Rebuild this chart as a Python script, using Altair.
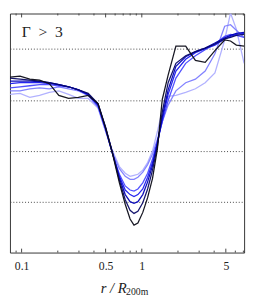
import altair as alt
import pandas as pd

r = [0.08, 0.097, 0.117, 0.141, 0.17, 0.204, 0.246, 0.297, 0.358, 0.432, 0.501, 0.571,
     0.651, 0.728, 0.799, 0.861, 0.928, 1.019, 1.118, 1.228, 1.348, 1.48, 1.656, 1.922,
     2.317, 2.793, 3.367, 4.058, 4.891, 5.471, 6.118, 7.1]

c1 = [-1.55,-1.53,-1.59,-1.61,-1.68,-1.91,-1.97,-1.95,-1.91,-2.07,-2.56,-3.06,-3.63,-4.05,-4.34,-4.46,-4.42,-4.21,-3.92,-3.54,-2.96,-1.99,-1.51,-0.94,-0.94,-1.22,-1.26,-1.03,-0.82,-0.84,-0.92,-0.94]
c2 = [-1.57,-1.59,-1.61,-1.63,-1.66,-1.70,-1.74,-1.80,-1.87,-2.07,-2.54,-3.04,-3.58,-3.96,-4.17,-4.23,-4.19,-4.02,-3.75,-3.38,-2.91,-2.24,-1.66,-1.28,-1.13,-1.05,-0.98,-0.90,-0.80,-0.77,-0.73,-0.71]
c3 = [-1.63,-1.63,-1.63,-1.64,-1.66,-1.70,-1.74,-1.80,-1.89,-2.08,-2.56,-3.04,-3.54,-3.86,-4.00,-4.03,-4.00,-3.86,-3.61,-3.29,-2.85,-2.33,-1.80,-1.34,-1.15,-1.05,-0.98,-0.88,-0.78,-0.73,-0.69,-0.67]
c4 = [-1.68,-1.66,-1.66,-1.66,-1.68,-1.70,-1.74,-1.80,-1.89,-2.10,-2.58,-3.06,-3.50,-3.77,-3.86,-3.90,-3.86,-3.75,-3.52,-3.23,-2.85,-2.39,-1.89,-1.43,-1.20,-1.07,-0.99,-0.92,-0.80,-0.75,-0.71,-0.69]
c5 = [-1.76,-1.74,-1.72,-1.70,-1.70,-1.72,-1.74,-1.80,-1.91,-2.12,-2.58,-3.06,-3.46,-3.69,-3.77,-3.79,-3.75,-3.63,-3.44,-3.16,-2.81,-2.43,-2.01,-1.57,-1.28,-1.13,-1.01,-0.90,-0.75,-0.71,-0.73,-0.77]
c6 = [-1.82,-1.82,-1.78,-1.76,-1.78,-1.74,-1.78,-1.82,-1.91,-2.14,-2.62,-3.04,-3.35,-3.50,-3.56,-3.56,-3.52,-3.42,-3.27,-3.06,-2.77,-2.43,-2.10,-1.82,-1.66,-1.59,-1.43,-1.09,-0.55,-0.52,-0.63,-0.77]
c7 = [-1.89,-1.87,-1.95,-1.91,-1.85,-1.82,-1.89,-1.97,-1.97,-2.16,-2.62,-3.00,-3.31,-3.44,-3.50,-3.48,-3.46,-3.38,-3.23,-3.00,-2.62,-2.20,-1.93,-1.91,-1.85,-1.78,-1.66,-1.47,-0.82,-0.29,-0.61,-1.28]

series_names = ["s7", "s6", "s5", "s4", "s3", "s2", "s1"]
series_vals = [c7, c6, c5, c4, c3, c2, c1]
series_colors = ["#aeaeff", "#7c7cff", "#4848ff", "#1a1aee", "#0000b8", "#0a0a66", "#0c0c18"]

grid_vals = [-1, -2, -3, -4]
label_vals = [0.1, 0.5, 1, 5]
major_ticks = [0.1, 0.5, 1, 5]
minor_ticks = [0.09, 0.2, 0.3, 0.4, 0.6, 0.7, 0.8, 0.9, 2, 3, 4, 6, 7]

W, H = 240, 245
xdom = [0.08, 7.1]
ydom = [-5.0, -0.3]

rows = []
for name, vals in zip(series_names, series_vals):
    for xi, yi in zip(r, vals):
        rows.append({"r": xi, "v": yi, "s": name})
df = pd.DataFrame(rows)

xscale = alt.Scale(type="log", domain=xdom, nice=False)
yscale = alt.Scale(domain=ydom, nice=False, zero=False)

serif = "Liberation Serif"

lines = alt.Chart(df).mark_line(strokeWidth=1.3, clip=True, opacity=0.95).encode(
    x=alt.X("r:Q", scale=xscale,
            axis=alt.Axis(values=label_vals, labelExpr="datum.value + ''", title=None,
                          ticks=False, tickSize=0, domain=False, grid=False,
                          labelFont=serif, labelFontSize=12, labelColor="#222",
                          labelPadding=8)),
    y=alt.Y("v:Q", scale=yscale,
            axis=alt.Axis(values=grid_vals, labels=False, ticks=False, domain=False,
                          title=None, grid=True, gridColor="#444", gridDash=[1, 2],
                          gridWidth=1, gridOpacity=1)),
    color=alt.Color("s:N", scale=alt.Scale(domain=series_names, range=series_colors), legend=None),
    order=alt.Order("r:Q"),
)

maj = pd.DataFrame({"t": major_ticks})
mnr = pd.DataFrame({"t": minor_ticks})

def tick_layer(d, y0, y1):
    return alt.Chart(d).mark_rule(color="#444", strokeWidth=1).encode(
        x=alt.X("t:Q", scale=xscale), y=alt.value(y0), y2=alt.value(y1))

ticks = (tick_layer(maj, H, H - 4) + tick_layer(mnr, H, H - 2)
         + tick_layer(maj, 0, 4) + tick_layer(mnr, 0, 2))

label = alt.Chart(pd.DataFrame({"txt": ["Γ\u2002>\u20023"]})).mark_text(
    font=serif, fontSize=16, align="left", baseline="alphabetic", color="#222"
).encode(text="txt:N", x=alt.value(12), y=alt.value(24))

t1 = alt.Chart(pd.DataFrame({"txt": ["r / R"]})).mark_text(
    font=serif, fontSize=15, fontStyle="italic", align="left", baseline="alphabetic", color="#222"
).encode(text="txt:N", x=alt.value(93), y=alt.value(286))
t2 = alt.Chart(pd.DataFrame({"txt": ["200m"]})).mark_text(
    font=serif, fontSize=10, align="left", baseline="alphabetic", color="#222"
).encode(text="txt:N", x=alt.value(119), y=alt.value(288))

chart = alt.layer(lines, ticks, label, t1, t2).properties(
    width=W, height=H, padding={"left": 2, "top": 1, "right": 5, "bottom": 2}
).configure_view(stroke="#333", strokeWidth=1)

chart.save("out.html", embed_options={"renderer": "svg", "actions": False})
